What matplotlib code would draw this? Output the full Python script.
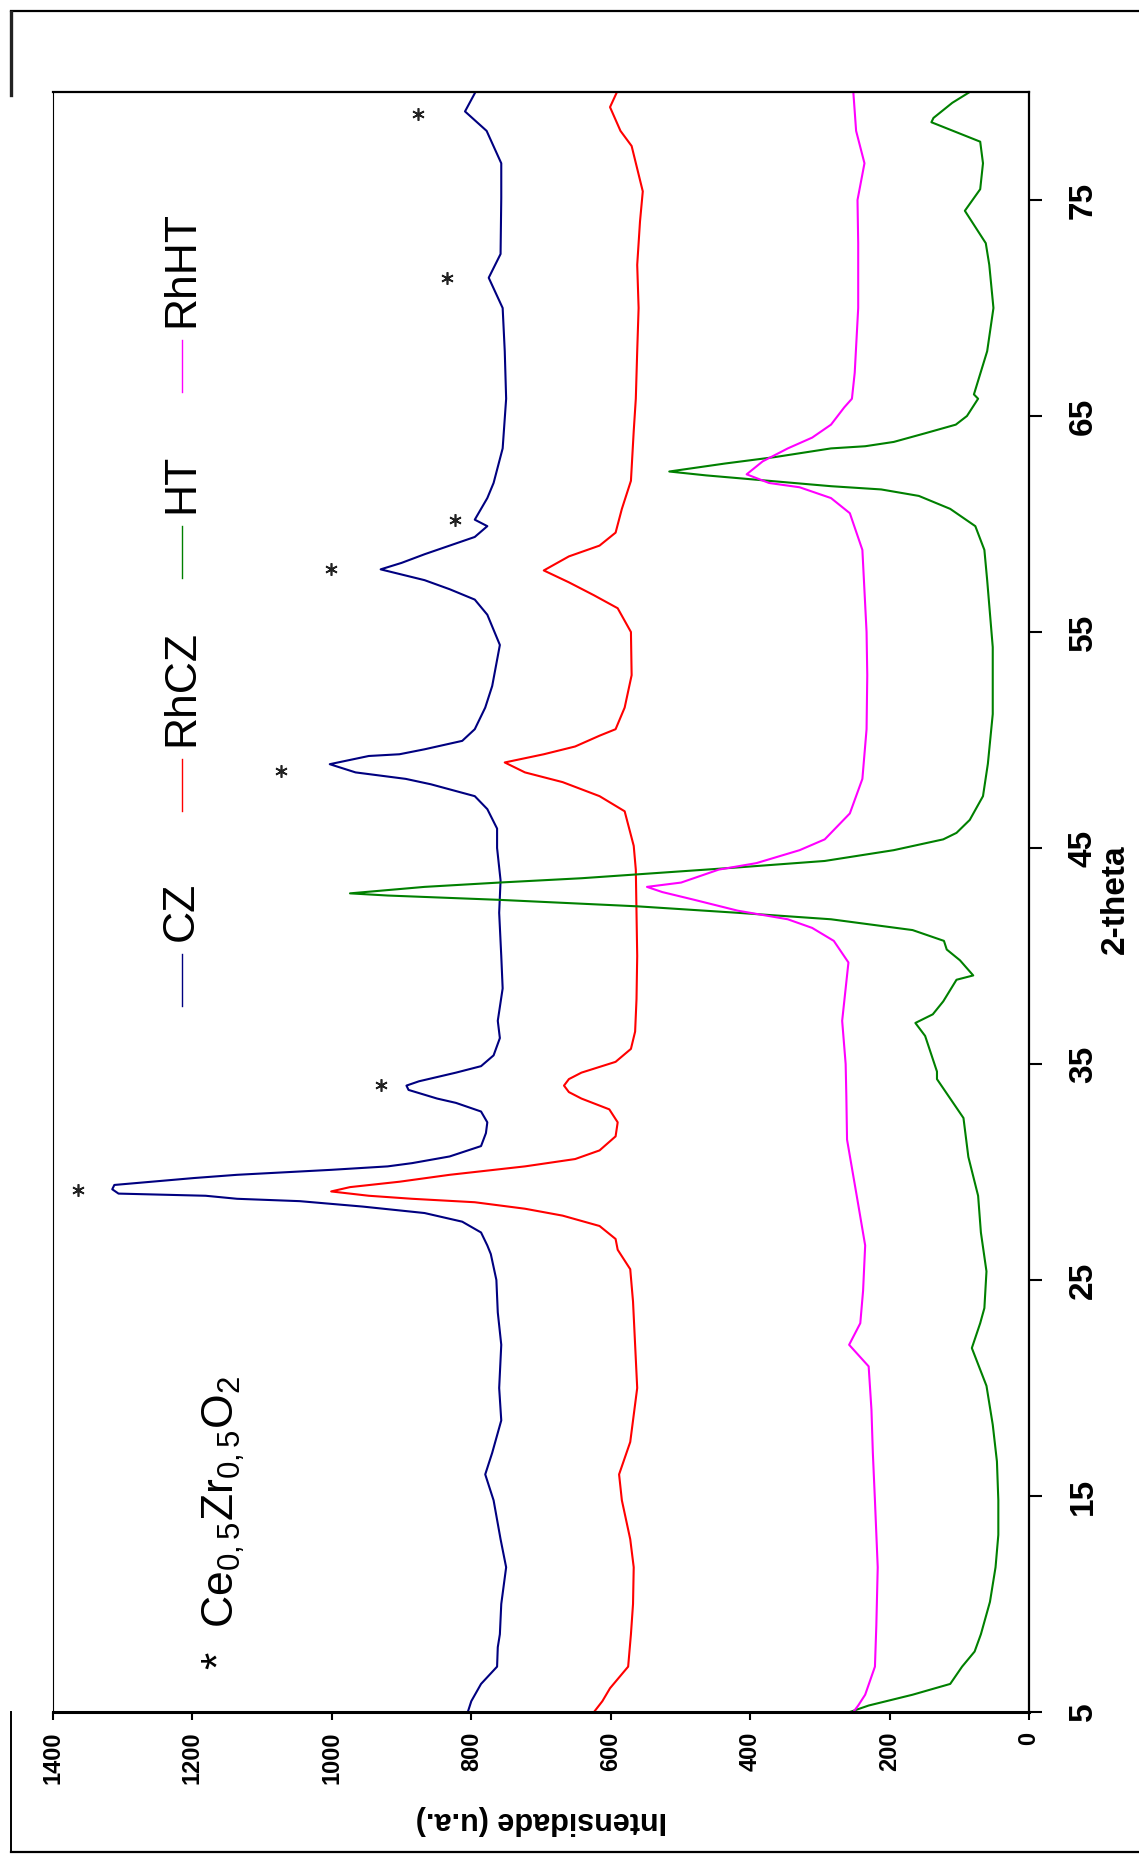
import matplotlib
matplotlib.use('Agg')
import matplotlib.pyplot as plt
from matplotlib.lines import Line2D

plt.rcParams['font.family'] = ['Liberation Sans', 'DejaVu Sans']
plt.rcParams['mathtext.fontset'] = 'custom'
plt.rcParams['mathtext.rm'] = 'Liberation Sans'
plt.rcParams['mathtext.it'] = 'Liberation Sans'

# XRD patterns: 2-theta (deg) and intensity (u.a.)
cz_2theta = [5.0, 5.5, 6.3, 7.1, 8.0, 8.6, 10.0, 11.7, 13.0, 14.8, 16.0, 17.0, 18.5, 20.0, 22.0,
             23.5, 25.0, 26.2, 26.6, 27.2, 27.7, 28.1, 28.4, 28.65, 28.76, 28.9, 29.0, 29.2, 29.4,
             29.72, 29.87, 30.1, 30.26, 30.41, 30.72, 31.2, 31.8, 32.3, 32.8, 33.2, 33.4, 33.8,
             34.0, 34.2, 34.6, 34.9, 35.4, 36.2, 37.0, 38.5, 40.0, 42.0, 43.5, 45.0, 45.9, 46.8,
             47.4, 47.95, 48.2, 48.5, 48.88, 49.26, 49.34, 49.57, 49.96, 50.5, 51.5, 52.5, 54.4,
             55.8, 56.5, 56.98, 57.4, 57.9, 58.2, 58.6, 59.0, 59.4, 59.9, 60.2, 60.7, 61.2, 61.9,
             63.5, 65.8, 68.0, 70.0, 71.4, 72.5, 75.1, 76.7, 78.2, 79.1, 80.0]
cz_int = [805, 800, 786, 763, 762, 759, 757, 750, 758, 768, 780, 770, 757, 760, 757,
          762, 764, 772, 777, 786, 813, 867, 956, 1046, 1136, 1181, 1306, 1315, 1312,
          1198, 1136, 1001, 920, 885, 831, 786, 779, 777, 786, 822, 849, 890,
          893, 875, 822, 786, 768, 759, 762, 755, 757, 760, 758, 763, 763, 777,
          795, 858, 894, 966, 1003, 947, 903, 867, 813, 795, 780, 770, 759,
          777, 795, 831, 867, 930, 900, 867, 831, 795, 777, 795, 786, 777, 768,
          755, 750, 752, 755, 775, 758, 757, 757, 778, 809, 794]

rhcz_2theta = [5.0, 5.5, 6.1, 7.1, 8.6, 10.0, 11.7, 13.0, 14.8, 16.0, 17.5, 20.0, 22.0, 24.0,
               25.5, 26.4, 26.9, 27.5, 27.98, 28.3, 28.6, 28.76, 28.9, 29.1, 29.3, 29.55, 29.87,
               30.26, 30.6, 31.0, 31.65, 32.3, 32.9, 33.4, 33.7, 34.0, 34.3, 34.6, 35.1, 35.7,
               36.5, 38.0, 40.0, 42.0, 44.0, 45.1, 46.7, 47.4, 48.05, 48.5, 48.96, 49.34, 49.7,
               50.2, 50.5, 51.5, 53.0, 55.0, 56.1, 56.7, 57.3, 57.85, 58.5, 59.0, 59.6, 60.7,
               62.0, 64.3, 65.8, 68.0, 70.0, 72.0, 74.0, 75.4, 77.5, 78.2, 79.3, 80.0]
rhcz_int = [624, 612, 601, 575, 571, 568, 567, 572, 584, 588, 572, 562, 565, 568,
            572, 590, 593, 616, 669, 723, 795, 885, 947, 1001, 974, 903, 831,
            723, 651, 616, 593, 590, 602, 642, 660, 667, 660, 642, 593, 571,
            565, 563, 562, 563, 564, 567, 580, 616, 669, 723, 752, 696, 651,
            616, 593, 580, 570, 571, 590, 624, 660, 696, 660, 616, 593, 584,
            571, 567, 564, 562, 560, 562, 558, 554, 570, 586, 601, 591]

ht_2theta = [5.0, 5.3, 5.8, 6.3, 7.1, 7.8, 8.6, 10.1, 11.7, 13.2, 14.8, 16.6, 18.3, 20.1, 21.85,
             23.0, 23.7, 25.4, 27.2, 28.9, 30.7, 32.5, 34.3, 34.65, 36.3, 36.9, 37.3, 37.9, 38.9,
             39.1, 39.8, 40.3, 40.7, 41.2, 41.7, 42.0, 42.3, 42.6, 42.8, 42.9, 43.2, 43.4, 43.6,
             43.9, 44.1, 44.4, 44.9, 45.4, 45.7, 46.3, 47.4, 48.9, 51.2, 54.3, 57.4, 58.8, 59.9,
             60.7, 61.3, 61.6, 61.75, 62.1, 62.25, 62.43, 62.8, 63.1, 63.5, 63.6, 63.8, 64.2,
             64.6, 65.0, 65.8, 66.0, 68.0, 70.0, 72.0, 73.0, 74.5, 75.5, 76.7, 77.7, 78.6, 78.8,
             79.5, 80.0]
ht_int = [257, 230, 167, 113, 96, 78, 69, 56, 48, 44, 44, 46, 52, 61, 82,
          70, 64, 61, 69, 73, 87, 94, 132, 132, 149, 163, 138, 123, 104,
          80, 99, 118, 122, 167, 284, 418, 562, 760, 920, 974, 867, 760, 642,
          508, 418, 293, 194, 123, 104, 85, 66, 59, 52, 52, 60, 64, 77,
          113, 158, 212, 284, 409, 463, 516, 436, 364, 284, 235, 194, 149,
          105, 89, 73, 79, 60, 51, 57, 62, 92, 70, 66, 70, 140, 137,
          110, 85]

rhht_2theta = [5.0, 5.3, 5.8, 7.1, 9.0, 11.7, 14.8, 17.0, 19.0, 21.0, 22.0, 23.0, 24.5, 26.6,
               28.5, 31.5, 33.5, 35.0, 37.0, 39.7, 40.7, 41.3, 41.7, 42.1, 42.6, 42.96, 43.2,
               43.4, 44.0, 44.3, 44.9, 45.4, 46.6, 48.2, 50.5, 53.0, 55.0, 58.8, 60.5, 61.2,
               61.7, 61.9, 62.3, 62.9, 63.5, 64.0, 64.6, 65.4, 65.8, 67.0, 70.0, 73.0, 75.0,
               76.7, 78.2, 80.0]
rhht_int = [252, 245, 235, 221, 219, 217, 221, 224, 226, 230, 258, 242, 238, 235,
            245, 261, 262, 263, 268, 259, 280, 311, 346, 418, 480, 526, 548,
            499, 445, 391, 329, 293, 257, 239, 233, 232, 233, 239, 257, 284,
            329, 373, 405, 382, 346, 311, 284, 265, 254, 250, 245, 245, 246,
            236, 248, 252]

# peaks of the Ce0,5Zr0,5O2 phase marked with *
star_2theta = [29.18, 34.05, 48.57, 57.9, 60.2, 71.37, 79.0]
star_int = [1364, 930, 1073, 1001, 823, 835, 877]

series = [
    ('CZ', cz_2theta, cz_int, '#000080'),
    ('RhCZ', rhcz_2theta, rhcz_int, '#ff0000'),
    ('HT', ht_2theta, ht_int, '#008000'),
    ('RhHT', rhht_2theta, rhht_int, '#ff00ff'),
]
int_ticks = [0, 200, 400, 600, 800, 1000, 1200, 1400]
theta_ticks = [5, 15, 25, 35, 45, 55, 65, 75]

fig = plt.figure(figsize=(11.39, 18.54), dpi=100)
# chart is drawn turned by 90 deg: intensity runs along the bottom, 2-theta up the right side
ax = fig.add_axes([53 / 1139, 1 - 1712 / 1854, 976 / 1139, 1620 / 1854])

for name, tt, inten, color in series:
    ax.plot(inten, tt, color=color, lw=1.5)

ax.plot(star_int, star_2theta, ls='none', marker=(6, 2, 0), ms=9, mew=1.2, color='#222222')

ax.set_xlim(1400, 0)
ax.set_ylim(5, 80)
ax.set_xticks(int_ticks, [str(v) for v in int_ticks], rotation=90,
              fontsize=17, fontweight='bold')
ax.yaxis.tick_right()
ax.set_yticks(theta_ticks, [str(v) for v in theta_ticks], rotation=90, va='center',
              ha='left', fontsize=24, fontweight='bold')
ax.tick_params(axis='x', direction='out', length=6, width=1.5, pad=8)
ax.tick_params(axis='y', direction='out', length=9, width=1.5, pad=19)

ax.spines['left'].set_linewidth(0.8)
ax.spines['top'].set_linewidth(1.6)
ax.spines['right'].set_linewidth(1.6)
ax.spines['bottom'].set_linewidth(2.2)

ax.text(1.088, 0.502, '2-theta', rotation=90, ha='center', va='center',
        fontsize=24, fontweight='bold', transform=ax.transAxes)
ax.text(0.5, -0.0667, 'Intensidade (u.a.)', rotation=180, ha='center', va='center',
        fontsize=22, fontweight='bold', transform=ax.transAxes)

# legend, turned with the chart
leg_x = 0.1319
leg_y0 = [0.4360, 0.5560, 0.7000, 0.8150]
for (name, tt, inten, color), y0 in zip(series, leg_y0):
    ax.plot([leg_x, leg_x], [y0, y0 + 0.0321], color=color, lw=1.0, transform=ax.transAxes)
    ax.text(leg_x, y0 + 0.0401, name, rotation=90, ha='center', va='bottom',
            fontsize=32, transform=ax.transAxes)

ax.text(0.175, 0.026, r'*  Ce$_{\mathregular{0,5}}$Zr$_{\mathregular{0,5}}$O$_{\mathregular{2}}$',
        rotation=90, ha='center', va='bottom', fontsize=32, transform=ax.transAxes)

# outer frame pieces
fig.add_artist(Line2D([0.0097, 1.0], [0.9942, 0.9942], color='black', lw=1.6))
fig.add_artist(Line2D([0.0097, 0.0097], [0.9935, 0.949], color='#222222', lw=2.4))
fig.add_artist(Line2D([0.0097, 0.0097], [0.0766, 0.0011], color='black', lw=1.4))
fig.add_artist(Line2D([0.0097, 1.0], [0.0011, 0.0011], color='black', lw=1.6))

fig.savefig('out.png', dpi=100)
